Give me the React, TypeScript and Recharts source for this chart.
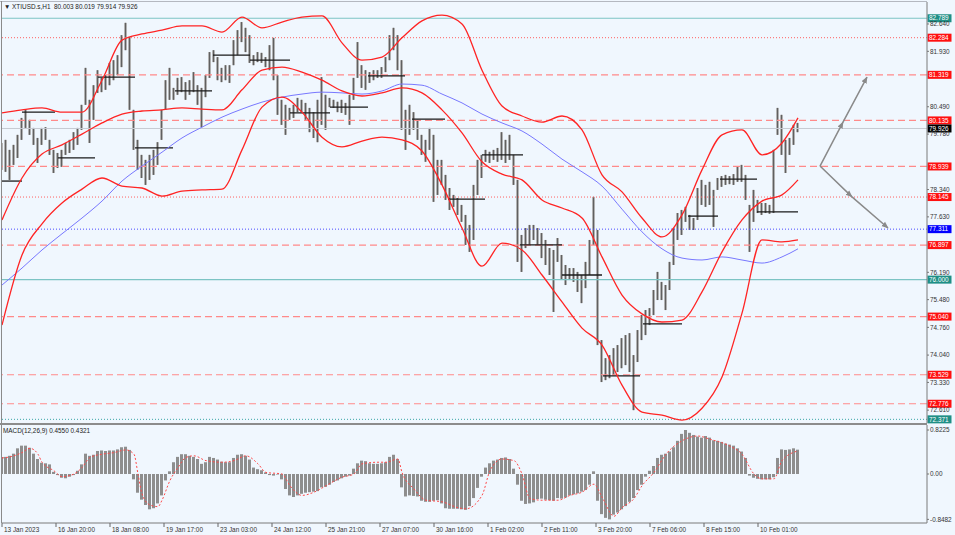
import React from 'react';
import { ComposedChart, Bar, Line, XAxis, YAxis, ReferenceLine } from 'recharts';

const highs = [
  79.55,79.63,79.37,79.50,79.76,80.20,80.41,80.15,79.94,79.68,
  79.94,79.96,79.63,79.37,79.29,79.37,79.55,79.63,79.83,79.94,
  80.54,81.50,80.67,81.05,81.44,81.24,81.31,81.63,81.70,81.83,
  82.35,82.67,82.30,80.41,79.63,79.24,79.11,79.24,79.37,79.57,
  80.41,81.18,81.50,80.98,81.24,81.26,81.13,81.18,81.39,81.05,
  80.98,81.31,81.91,81.96,81.78,81.50,81.57,81.57,82.22,82.48,
  82.69,82.54,82.35,81.83,81.91,81.89,81.78,82.09,82.28,81.31,
  80.67,80.54,80.46,80.54,80.72,80.67,80.59,80.46,80.35,80.67,
  81.26,80.80,80.72,80.67,80.62,80.67,80.59,80.80,81.24,82.17,
  81.57,81.44,81.39,81.44,81.44,81.52,81.78,82.35,82.54,82.35,
  81.70,80.41,80.54,80.35,80.15,79.76,79.63,79.94,79.76,79.11,
  79.11,78.72,78.38,78.20,78.12,77.94,77.68,77.42,78.46,79.11,
  79.24,79.37,79.32,79.37,79.42,79.83,79.63,79.76,79.24,78.59,
  77.16,77.34,77.42,77.42,77.34,77.21,77.03,76.82,76.77,77.08,
  76.64,76.38,76.30,76.30,76.20,76.12,76.46,77.03,78.15,77.29,
  74.43,73.96,74.04,74.22,74.30,74.48,74.56,74.61,74.04,74.69,
  75.08,75.21,75.26,75.73,76.20,75.94,75.86,76.46,77.34,77.73,
  77.81,77.89,77.68,77.60,78.38,78.59,78.46,78.54,78.33,78.64,
  78.69,78.72,78.69,78.74,78.93,78.98,78.72,77.94,78.33,78.07,
  77.99,77.99,77.94,79.37,80.46,80.28,79.63,79.68,80.02,80.07,
];

const lows = [
  78.85,78.80,78.59,78.98,79.16,79.63,79.94,79.76,79.50,79.03,
  79.50,79.63,79.24,78.77,78.90,78.93,79.24,79.29,79.37,79.50,
  79.89,80.54,79.55,80.15,80.85,80.87,80.93,81.05,81.18,81.31,
  81.52,81.96,80.41,79.37,78.85,78.64,78.46,78.59,78.72,78.98,
  79.63,80.41,80.67,80.67,80.80,80.87,80.67,80.80,80.87,80.54,
  79.96,80.74,81.24,81.65,81.18,81.13,81.18,81.11,81.57,81.83,
  82.17,81.91,81.63,81.57,81.65,81.63,81.52,81.44,81.18,80.28,
  80.02,79.76,80.15,80.20,80.35,80.35,80.15,79.83,79.68,79.57,
  80.02,79.89,80.48,80.46,80.35,80.33,80.28,80.02,80.67,81.24,
  80.98,80.93,81.11,81.18,81.24,81.24,81.39,81.70,81.96,81.44,
  79.89,79.37,79.76,79.89,79.63,79.24,79.06,79.37,78.02,78.20,
  78.46,78.07,77.81,77.89,77.68,77.50,76.90,76.72,77.03,78.20,
  78.64,79.06,79.03,79.11,79.06,79.11,79.03,79.11,78.46,76.46,
  76.20,76.82,76.90,77.03,76.90,76.56,76.38,76.12,75.16,76.46,
  75.99,75.86,75.99,75.94,75.68,75.39,75.78,76.12,76.90,74.30,
  73.34,73.39,73.44,73.52,73.60,73.70,73.78,73.60,72.61,73.86,
  74.43,74.56,74.82,75.08,75.47,75.47,75.21,75.73,76.38,77.03,
  77.16,77.50,77.29,77.29,77.55,77.94,77.89,77.94,77.37,78.33,
  78.41,78.46,78.48,78.46,78.54,78.54,78.07,76.72,77.50,77.73,
  77.68,77.73,77.71,77.73,79.76,79.24,78.77,79.24,79.50,79.83,
];

const macdHist = [
  0.32,0.32,0.34,0.38,0.48,0.53,0.53,0.49,0.38,0.28,
  0.21,0.20,0.18,0.04,-0.02,-0.07,-0.08,-0.05,-0.02,0.06,
  0.18,0.38,0.34,0.36,0.43,0.44,0.43,0.44,0.44,0.46,
  0.50,0.51,0.45,-0.10,-0.35,-0.48,-0.58,-0.66,-0.64,-0.55,
  -0.40,-0.12,0.05,0.22,0.32,0.37,0.37,0.34,0.32,0.28,
  0.19,0.22,0.32,0.30,0.27,0.23,0.22,0.22,0.30,0.36,
  0.37,0.34,0.27,0.12,0.09,0.07,0.03,-0.02,-0.03,-0.01,
  -0.10,-0.28,-0.40,-0.43,-0.40,-0.37,-0.35,-0.34,-0.33,-0.32,
  -0.25,-0.24,-0.20,-0.15,-0.12,-0.08,-0.05,-0.03,0.10,0.20,
  0.25,0.24,0.20,0.19,0.19,0.20,0.22,0.32,0.36,0.28,
  -0.25,-0.42,-0.40,-0.41,-0.42,-0.50,-0.52,-0.52,-0.50,-0.49,
  -0.55,-0.64,-0.65,-0.65,-0.65,-0.66,-0.67,-0.60,-0.45,-0.26,
  -0.05,0.12,0.20,0.25,0.27,0.30,0.31,0.28,0.10,-0.20,
  -0.50,-0.56,-0.55,-0.53,-0.47,-0.46,-0.48,-0.49,-0.50,-0.45,
  -0.46,-0.44,-0.40,-0.38,-0.36,-0.33,-0.30,-0.20,0.05,-0.50,
  -0.75,-0.82,-0.848,-0.76,-0.72,-0.66,-0.60,-0.52,-0.45,-0.30,
  -0.20,-0.05,0.06,0.15,0.30,0.36,0.38,0.42,0.50,0.62,
  0.75,0.8225,0.77,0.73,0.70,0.68,0.71,0.68,0.63,0.62,
  0.60,0.57,0.55,0.53,0.48,0.42,0.30,-0.03,-0.07,-0.09,
  -0.10,-0.10,-0.10,-0.06,0.30,0.46,0.45,0.46,0.48,0.455,
];

const bandIdx = [0,5,10,15,20,25,30,35,40,45,50,55,60,65,70,75,80,85,90,95,100,105,110,115,120,125,130,135,140,145,150,155,160,165,170,175,180,185,190,195,199];
const upperBand = [80.33,80.41,80.46,80.35,80.35,81.18,82.22,82.38,82.48,82.59,82.59,82.43,82.82,82.54,82.69,82.82,82.85,82.15,81.70,81.78,82.28,82.72,82.87,82.64,81.44,80.51,80.25,80.09,80.25,79.89,78.72,78.28,77.60,77.11,77.68,78.85,79.76,79.89,79.24,79.55,80.20];
const middleBand = [77.55,78.64,79.26,79.50,79.78,80.07,80.30,80.38,80.41,80.46,80.43,80.41,80.93,81.44,81.52,81.39,81.18,80.90,80.77,80.85,80.98,80.85,80.41,79.81,79.06,78.74,78.59,78.07,77.86,77.60,76.59,75.60,75.11,74.90,74.95,75.68,76.72,77.55,78.04,78.20,78.59];
const lowerBand = [74.82,76.64,77.45,77.99,78.35,78.64,78.43,78.38,78.17,78.30,78.33,78.35,79.37,80.48,80.74,80.35,79.70,79.45,79.60,79.70,79.63,79.34,78.46,77.34,76.35,76.95,76.77,76.12,75.42,74.74,74.30,73.26,72.56,72.48,72.35,72.66,73.47,75.13,77.03,76.98,77.03];
const maLine = [75.86,76.30,76.77,77.19,77.60,78.04,78.56,78.95,79.31,79.68,79.96,80.22,80.43,80.61,80.74,80.82,80.87,80.85,80.82,80.90,81.08,81.05,80.82,80.59,80.30,80.07,79.86,79.52,79.13,78.80,78.43,77.83,77.24,76.80,76.56,76.51,76.59,76.51,76.43,76.59,76.80];

const signalIdx = [0,2,5,7,9,10,13,15,18,20,22,25,28,31,33,34,35,37,39,40,42,44,46,48,51,55,58,61,64,66,70,72,75,78,81,85,88,90,94,96,99,100,103,106,110,114,116,120,122,125,128,130,132,135,139,142,145,148,150,153,155,158,160,163,166,170,174,177,182,185,188,190,193,195,199];
const signalVals = [0.30,0.32,0.40,0.48,0.37,0.22,0.06,-0.05,0,0.12,0.31,0.37,0.40,0.45,0.37,0.0,-0.37,-0.58,-0.61,-0.49,-0.12,0.12,0.31,0.34,0.25,0.22,0.25,0.34,0.19,0.03,0,-0.22,-0.40,-0.34,-0.22,-0.06,0,0.19,0.22,0.22,0.28,0.03,-0.28,-0.49,-0.52,-0.63,-0.65,-0.40,0.06,0.28,0.25,0,-0.46,-0.49,-0.49,-0.40,-0.34,-0.19,-0.43,-0.79,-0.63,-0.46,-0.22,0.03,0.37,0.62,0.71,0.65,0.52,0.37,0,-0.09,-0.09,0.25,0.432];

const dayStart = [0,5,14,24,33.25,43.25,52.75,62,72,82,91.5,102.5,111.5,120,129.5,140,150.25,160.25,171.5,179.5,188.75];
const dayEnd = [5,13.25,23.25,33.25,42.75,52.5,62,72,82,91.5,100.75,110.75,120.75,130.25,140,150,159.5,170,179,188.75,199];
const dayLevel = [78.56,80.35,79.16,81.26,79.42,80.90,81.83,81.70,80.33,80.48,81.29,80.17,78.09,79.24,76.90,76.12,73.50,74.85,77.65,78.61,77.76];

const levelPrices = [82.789,82.284,81.319,80.135,79.926,78.939,78.145,77.311,76.897,76.000,75.040,73.529,72.776,72.371];
const levelKinds = ['teal','redDot','redDash','redDash','price','redDash','redDot','blueDot','redDash','teal','redDash','redDash','redDash','tealDot'];

const priceTicks = [82.64,81.93,80.49,79.78,78.34,77.63,76.19,75.48,74.76,74.04,73.33,72.61];
const macdTicks = [0.8225, 0, -0.8482];
const macdTickLabels = ['0.8225', '0.00', '-0.8482'];

const dateTickIdx = [0,13.5,27,40.5,54,67.5,81,94.5,108,121.5,135,148.5,162,175.5,189];
const dateLabels = ['13 Jan 2023','16 Jan 20:00','18 Jan 08:00','19 Jan 17:00','23 Jan 03:00','24 Jan 12:00','25 Jan 21:00','27 Jan 07:00','30 Jan 16:00','1 Feb 02:00','2 Feb 11:00','3 Feb 20:00','7 Feb 06:00','8 Feb 15:00','10 Feb 01:00'];

const arrowUpIdx = [204.5, 210.25, 216.25];
const arrowUpPrice = [78.95, 80.09, 81.26];
const arrowDownIdx = [204.5, 212.5, 221.5];
const arrowDownPrice = [78.95, 78.15, 77.34];

const headerText = 'XTIUSD.s,H1  80.003 80.019 79.914 79.926';
const macdTitle = 'MACD(12,26,9) 0.4550 0.4321';

const barData = highs.map((h, i) => ({ i, range: [lows[i], h] }));
const histData = macdHist.map((v, i) => ({ i, h: v }));
const mk = (idx: number[], vals: number[]) => idx.map((i, k) => ({ i, v: vals[k] }));

const FONT = "'Liberation Sans', Arial, sans-serif";
const FS = 6.4;
const BG = '#f0f7fe';

const levelStyle: Record<string, any> = {
  teal: { stroke: '#7cc4c4', dash: undefined, w: 1.2, tag: '#1f8f86' },
  tealDot: { stroke: '#3aa6a6', dash: '1 2', w: 1, tag: '#1f8f86' },
  redDash: { stroke: '#ff8a8a', dash: '7 4', w: 1.2, tag: '#ff1010' },
  redDot: { stroke: '#ff6060', dash: '1 2', w: 1, tag: '#ff1010' },
  blueDot: { stroke: '#4a4aff', dash: '1 2', w: 1, tag: '#0000ff' },
  price: { stroke: '#c6cad2', dash: undefined, w: 1, tag: '#000000' },
};

const CandleShape = (props: any) => {
  const { x, y, width, height } = props;
  if (x == null || y == null || height == null) return null;
  const cx = x + width / 2;
  const h = Math.max(Math.abs(height), 1);
  const top = height < 0 ? y + height : y;
  return (
    <g>
      <rect x={cx - 1.5} y={top} width={3} height={h} fill="#b2b2b2" />
      <rect x={cx - 0.5} y={top} width={1} height={h} fill="#606060" />
    </g>
  );
};

const PriceTick = (props: any) => {
  const { x, y, payload } = props;
  return (
    <text x={x + 1} y={y} dy="0.35em" fontSize={FS} fontFamily={FONT} fill="#333" textAnchor="start">
      {Number(payload.value).toFixed(3)}
    </text>
  );
};

const MacdTick = (props: any) => {
  const { x, y, payload } = props;
  const k = macdTicks.indexOf(payload.value);
  return (
    <text x={x + 1} y={y} dy="0.35em" fontSize={FS} fontFamily={FONT} fill="#333" textAnchor="start">
      {macdTickLabels[k]}
    </text>
  );
};

const DateTick = (props: any) => {
  const { x, y, payload } = props;
  const k = dateTickIdx.indexOf(payload.value);
  return (
    <g>
      <line x1={x} y1={y} x2={x} y2={y + 4} stroke="#666" strokeWidth={1} />
      <text x={x + 2} y={y + 6.5} dy="0.35em" fontSize={FS} fontFamily={FONT} fill="#333" textAnchor="start">
        {dateLabels[k]}
      </text>
    </g>
  );
};

const makeTag = (text: string, bg: string) => (props: any) => {
  const vb = props.viewBox || {};
  const x = (vb.x || 0) + (vb.width || 0);
  const y = vb.y || 0;
  return (
    <g>
      <rect x={x + 0.5} y={y - 4} width={24} height={8} fill={bg} />
      <text x={x + 2} y={y} dy="0.35em" fontSize={FS} fontFamily={FONT} fill="#ffffff" textAnchor="start">
        {text}
      </text>
    </g>
  );
};

export default function App() {
  return (
    <div style={{ position: 'absolute', left: 0, top: 0, width: 955, height: 535, background: BG, overflow: 'hidden', fontFamily: FONT }}>
      <div style={{ position: 'absolute', left: 0, top: 0 }}>
        <ComposedChart width={955} height={425} data={barData} margin={{ top: 2, right: 0, bottom: 2, left: 2 }}>
          <defs>
            <marker id="arrowHead" viewBox="0 0 10 10" refX="9" refY="5" markerWidth="7" markerHeight="7" orient="auto" markerUnits="userSpaceOnUse">
              <path d="M0,1 L10,5 L0,9 z" fill="#8a8a8a" />
            </marker>
          </defs>
          <XAxis dataKey="i" type="number" domain={[0, 231.25]} allowDataOverflow hide />
          <YAxis
            orientation="right"
            width={28}
            domain={[72.276, 83.211]}
            allowDataOverflow
            ticks={priceTicks}
            interval={0}
            tick={<PriceTick />}
            tickSize={2}
            tickMargin={0}
            tickLine={{ stroke: '#777' }}
            axisLine={{ stroke: '#7a7a7a' }}
          />
          {levelPrices.map((p, k) => {
            const st = levelStyle[levelKinds[k]];
            return (
              <ReferenceLine
                key={'lv' + k}
                y={p}
                stroke={st.stroke}
                strokeWidth={st.w}
                strokeDasharray={st.dash}
                label={makeTag(p.toFixed(3), st.tag)}
              />
            );
          })}
          {dayStart.map((s, k) => (
            <ReferenceLine
              key={'day' + k}
              segment={[{ x: s, y: dayLevel[k] }, { x: dayEnd[k], y: dayLevel[k] }]}
              stroke="#1a1a1a"
              strokeWidth={1.3}
            />
          ))}
          <Bar dataKey="range" barSize={3} shape={CandleShape} isAnimationActive={false} />
          <Line data={mk(bandIdx, maLine)} dataKey="v" type="monotone" stroke="#7878ff" strokeWidth={1} dot={false} isAnimationActive={false} />
          <Line data={mk(bandIdx, upperBand)} dataKey="v" type="monotone" stroke="#ff2424" strokeWidth={1.3} dot={false} isAnimationActive={false} />
          <Line data={mk(bandIdx, middleBand)} dataKey="v" type="monotone" stroke="#ff2424" strokeWidth={1.3} dot={false} isAnimationActive={false} />
          <Line data={mk(bandIdx, lowerBand)} dataKey="v" type="monotone" stroke="#ff2424" strokeWidth={1.3} dot={false} isAnimationActive={false} />
          <Line data={mk(arrowUpIdx, arrowUpPrice)} dataKey="v" type="linear" stroke="#8a8a8a" strokeWidth={1.5} dot={false} markerMid="url(#arrowHead)" markerEnd="url(#arrowHead)" isAnimationActive={false} />
          <Line data={mk(arrowDownIdx, arrowDownPrice)} dataKey="v" type="linear" stroke="#8a8a8a" strokeWidth={1.5} dot={false} markerMid="url(#arrowHead)" markerEnd="url(#arrowHead)" isAnimationActive={false} />
        </ComposedChart>
      </div>
      <div style={{ position: 'absolute', left: 0, top: 425 }}>
        <ComposedChart width={955} height={110} data={histData} margin={{ top: 0, right: 0, bottom: 0, left: 2 }}>
          <XAxis
            dataKey="i"
            type="number"
            domain={[0, 231.25]}
            allowDataOverflow
            ticks={dateTickIdx}
            interval={0}
            height={12}
            tickLine={false}
            tickSize={0}
            tickMargin={0}
            axisLine={{ stroke: '#7a7a7a' }}
            tick={<DateTick />}
          />
          <YAxis
            orientation="right"
            width={28}
            domain={[-0.916, 0.916]}
            allowDataOverflow
            ticks={macdTicks}
            interval={0}
            tick={<MacdTick />}
            tickSize={2}
            tickMargin={0}
            tickLine={{ stroke: '#777' }}
            axisLine={{ stroke: '#7a7a7a' }}
          />
          <Bar dataKey="h" barSize={3} fill="#8e8e8e" isAnimationActive={false} />
          <Line data={mk(signalIdx, signalVals)} dataKey="v" type="monotone" stroke="#ff4a4a" strokeWidth={1} strokeDasharray="2 2" dot={false} isAnimationActive={false} />
        </ComposedChart>
      </div>
      <div style={{ position: 'absolute', left: 0, top: 1, width: 927, height: 1, background: '#b4b8c0' }} />
      <div style={{ position: 'absolute', left: 1, top: 1, width: 1, height: 522, background: '#8a8a8a' }} />
      <div style={{ position: 'absolute', left: 0, top: 423, width: 927, height: 2, background: '#8c8c8c' }} />
      <div style={{ position: 'absolute', left: 4, top: 3, fontSize: FS, lineHeight: '8px', color: '#222', whiteSpace: 'pre' }}>
        {'▼ ' + headerText}
      </div>
      <div style={{ position: 'absolute', left: 3, top: 427, fontSize: FS, lineHeight: '8px', color: '#222', whiteSpace: 'pre' }}>
        {macdTitle}
      </div>
    </div>
  );
}
